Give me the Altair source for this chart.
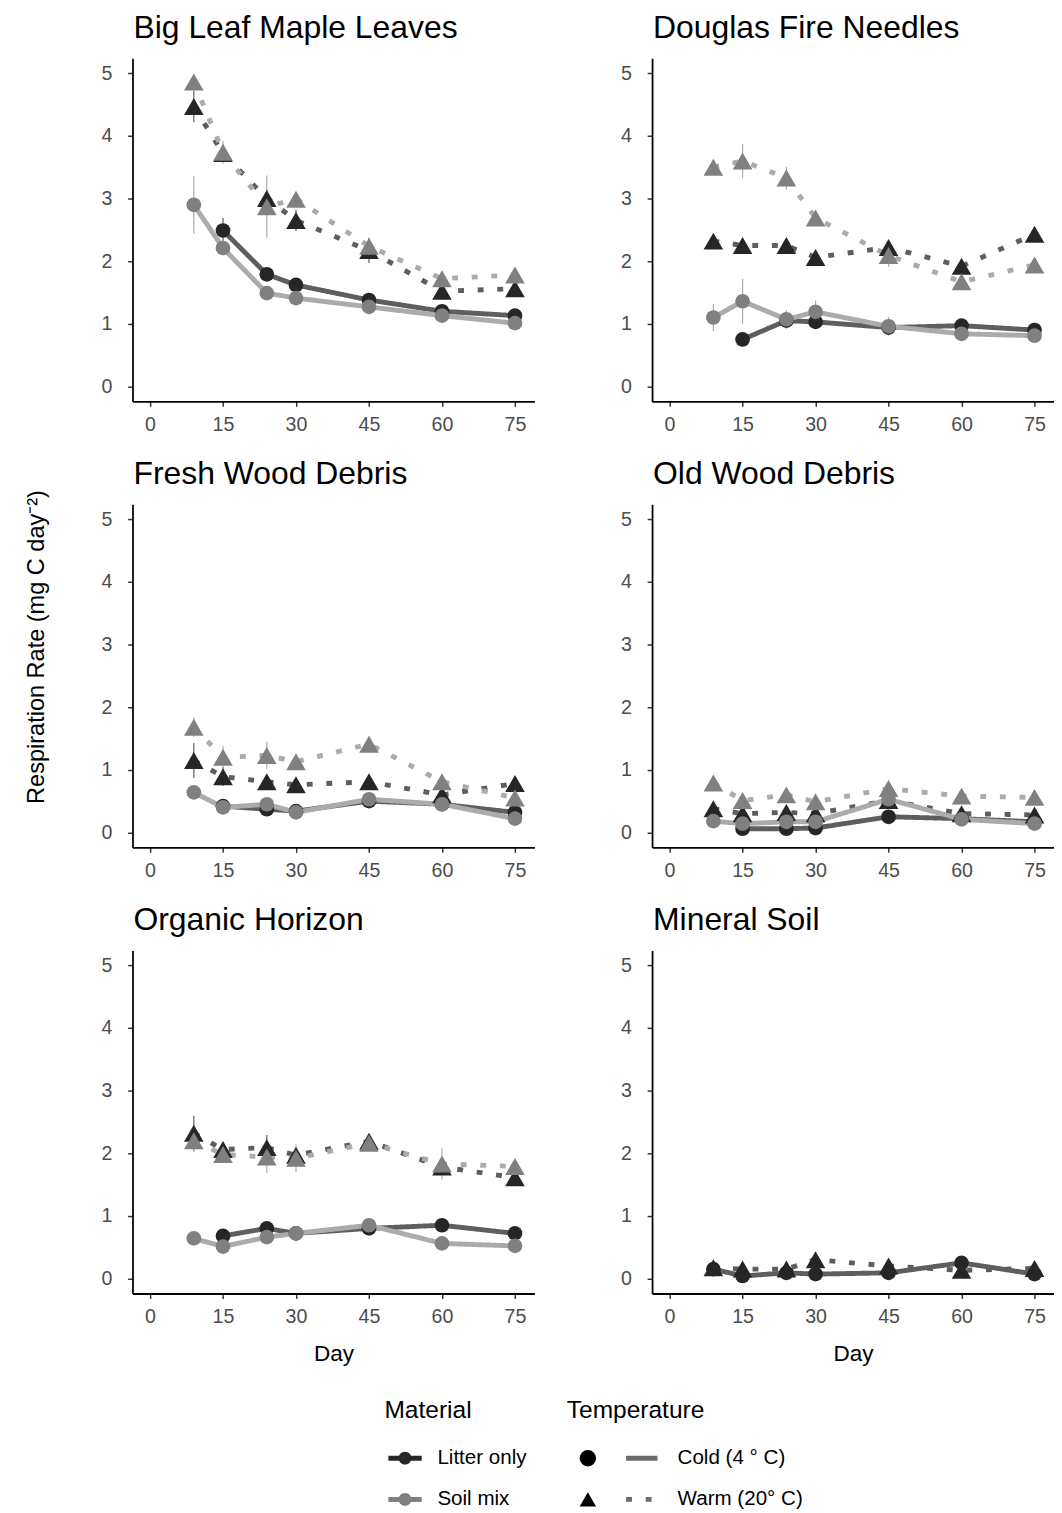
import altair as alt
import pandas as pd

DAYS = [9, 15, 24, 30, 45, 60, 75]
PANELS = ["Big Leaf Maple Leaves", "Douglas Fire Needles", "Fresh Wood Debris",
          "Old Wood Debris", "Organic Horizon", "Mineral Soil"]
MATERIALS = ["Litter only", "Soil mix"]
LINE_KEYS = ["litter_line", "soil_line"]
TEMPS = ["Cold (4 ° C)", "Warm (20° C)"]
SHAPE_KEYS = ["cold", "warm"]
SIZE_KEYS = ["small", "large"]
X_TICKS = [0, 15, 30, 45, 60, 75]
Y_TICKS = [0, 1, 2, 3, 4, 5]
Y_TITLE = "Respiration Rate (mg C day\u207b\u00b2)"

# Big Leaf Maple Leaves
MAPLE_LC = [None, 2.49, 1.79, 1.62, 1.38, 1.20, 1.13]
MAPLE_LC_SE = [None, 0.20, 0.06, 0.05, 0.05, 0.05, 0.04]
MAPLE_LW = [4.47, 3.72, 3.00, 2.65, 2.17, 1.52, 1.56]
MAPLE_LW_SE = [0.25, 0.10, 0.15, 0.17, 0.20, 0.10, 0.08]
MAPLE_SC = [2.90, 2.21, 1.49, 1.41, 1.27, 1.13, 1.01]
MAPLE_SC_SE = [0.46, 0.08, 0.06, 0.05, 0.05, 0.05, 0.04]
MAPLE_SW = [4.86, 3.74, 2.87, 2.99, 2.24, 1.72, 1.78]
MAPLE_SW_SE = [0.10, 0.18, 0.50, 0.10, 0.12, 0.10, 0.08]

# Douglas Fire Needles
FIR_LC = [None, 0.75, 1.05, 1.03, 0.94, 0.97, 0.90]
FIR_LC_SE = [None, 0.05, 0.08, 0.05, 0.05, 0.05, 0.05]
FIR_LW = [2.32, 2.25, 2.25, 2.06, 2.22, 1.92, 2.43]
FIR_LW_SE = [0.08, 0.08, 0.08, 0.08, 0.10, 0.08, 0.08]
FIR_SC = [1.10, 1.36, 1.07, 1.19, 0.96, 0.84, 0.81]
FIR_SC_SE = [0.22, 0.36, 0.15, 0.18, 0.15, 0.05, 0.05]
FIR_SW = [3.50, 3.60, 3.33, 2.69, 2.09, 1.67, 1.94]
FIR_SW_SE = [0.12, 0.27, 0.18, 0.12, 0.18, 0.10, 0.08]

# Fresh Wood Debris
FRESH_LC = [None, 0.42, 0.37, 0.34, 0.50, 0.45, 0.32]
FRESH_LC_SE = [None, 0.05, 0.05, 0.05, 0.05, 0.05, 0.05]
FRESH_LW = [1.15, 0.89, 0.81, 0.76, 0.81, 0.60, 0.78]
FRESH_LW_SE = [0.28, 0.15, 0.10, 0.08, 0.08, 0.08, 0.08]
FRESH_SC = [0.64, 0.40, 0.45, 0.32, 0.53, 0.45, 0.22]
FRESH_SC_SE = [0.05, 0.05, 0.05, 0.05, 0.05, 0.05, 0.05]
FRESH_SW = [1.68, 1.20, 1.23, 1.13, 1.41, 0.81, 0.55]
FRESH_SW_SE = [0.15, 0.18, 0.22, 0.10, 0.12, 0.08, 0.08]

# Old Wood Debris
OLD_LC = [None, 0.06, 0.06, 0.07, 0.25, 0.22, 0.17]
OLD_LC_SE = [None, 0.04, 0.04, 0.04, 0.04, 0.04, 0.04]
OLD_LW = [0.38, 0.30, 0.32, 0.30, 0.51, 0.30, 0.28]
OLD_LW_SE = [0.05, 0.05, 0.05, 0.05, 0.05, 0.05, 0.05]
OLD_SC = [0.18, 0.14, 0.17, 0.17, 0.53, 0.21, 0.14]
OLD_SC_SE = [0.04, 0.04, 0.04, 0.04, 0.04, 0.04, 0.04]
OLD_SW = [0.79, 0.51, 0.60, 0.49, 0.70, 0.58, 0.56]
OLD_SW_SE = [0.05, 0.05, 0.05, 0.05, 0.05, 0.05, 0.05]

# Organic Horizon
ORG_LC = [None, 0.68, 0.80, 0.72, 0.80, 0.85, 0.72]
ORG_LC_SE = [None, 0.05, 0.05, 0.05, 0.05, 0.05, 0.05]
ORG_LW = [2.32, 2.06, 2.09, 1.97, 2.19, 1.78, 1.61]
ORG_LW_SE = [0.28, 0.12, 0.20, 0.10, 0.10, 0.10, 0.08]
ORG_SC = [0.64, 0.51, 0.66, 0.72, 0.85, 0.56, 0.52]
ORG_SC_SE = [0.05, 0.05, 0.05, 0.05, 0.05, 0.05, 0.05]
ORG_SW = [2.20, 1.98, 1.94, 1.92, 2.16, 1.83, 1.79]
ORG_SW_SE = [0.18, 0.12, 0.25, 0.22, 0.12, 0.25, 0.10]

# Mineral Soil (litter-only series)
MIN_LC = [0.15, 0.04, 0.09, 0.07, 0.09, 0.25, 0.07]
MIN_LC_SE = [0.03, 0.03, 0.03, 0.03, 0.03, 0.03, 0.03]
MIN_LW = [0.17, 0.15, 0.15, 0.30, 0.20, 0.13, 0.16]
MIN_LW_SE = [0.03, 0.03, 0.03, 0.03, 0.03, 0.03, 0.03]
MIN_SC = [None] * 7
MIN_SC_SE = [None] * 7
MIN_SW = [None] * 7
MIN_SW_SE = [None] * 7

SERIES = [
    (PANELS[0], MAPLE_LC, MAPLE_LC_SE, MAPLE_LW, MAPLE_LW_SE, MAPLE_SC, MAPLE_SC_SE, MAPLE_SW, MAPLE_SW_SE),
    (PANELS[1], FIR_LC, FIR_LC_SE, FIR_LW, FIR_LW_SE, FIR_SC, FIR_SC_SE, FIR_SW, FIR_SW_SE),
    (PANELS[2], FRESH_LC, FRESH_LC_SE, FRESH_LW, FRESH_LW_SE, FRESH_SC, FRESH_SC_SE, FRESH_SW, FRESH_SW_SE),
    (PANELS[3], OLD_LC, OLD_LC_SE, OLD_LW, OLD_LW_SE, OLD_SC, OLD_SC_SE, OLD_SW, OLD_SW_SE),
    (PANELS[4], ORG_LC, ORG_LC_SE, ORG_LW, ORG_LW_SE, ORG_SC, ORG_SC_SE, ORG_SW, ORG_SW_SE),
    (PANELS[5], MIN_LC, MIN_LC_SE, MIN_LW, MIN_LW_SE, MIN_SC, MIN_SC_SE, MIN_SW, MIN_SW_SE),
]

rows = []
for panel, lc, lcse, lw, lwse, sc, scse, sw, swse in SERIES:
    groups = [
        (0, 0, lc, lcse),
        (0, 1, lw, lwse),
        (1, 0, sc, scse),
        (1, 1, sw, swse),
    ]
    for m, t, vals, ses in groups:
        for day, v, s in zip(DAYS, vals, ses):
            if v is None:
                continue
            rows.append(dict(Panel=panel, Material=MATERIALS[m], LineKey=LINE_KEYS[m],
                             Temperature=TEMPS[t], TempShape=SHAPE_KEYS[t],
                             SizeKey=SIZE_KEYS[t], Day=day, Rate=v,
                             Lo=v - s, Hi=v + s))
df = pd.DataFrame(rows)

FONT = "Liberation Sans"
W, H = 410, 350
X_DOMAIN = [-3.6, 79.0]
Y_DOMAIN = [-0.24, 5.24]

fill_scale = alt.Scale(domain=MATERIALS, range=["#262626", "#808080"])
stroke_scale = alt.Scale(domain=LINE_KEYS, range=["#5e5e5e", "#ababab"])
dash_scale = alt.Scale(domain=TEMPS, range=[[1, 0], [6, 14]])
shape_scale = alt.Scale(domain=SHAPE_KEYS, range=["circle", "triangle-up"])
size_scale = alt.Scale(domain=SIZE_KEYS, range=[225, 400])

LEG_Y = 1367
MAT_PATH = ("M-1,-0.15H1V0.15H-1Z "
            "M0.38,0A0.38,0.38,0,1,1,-0.38,0A0.38,0.38,0,1,1,0.38,0Z")

common_leg = dict(orient="none", direction="vertical", titleFontSize=25,
                  titleFontWeight="normal", titleColor="black", titleFont=FONT,
                  labelFontSize=21, labelColor="black", labelFont=FONT,
                  clipHeight=40, rowPadding=2, titlePadding=16)

fill_legend = alt.Legend(title="Material", legendX=257, legendY=LEG_Y,
                         symbolType=MAT_PATH, symbolSize=1156, symbolOffset=4,
                         labelOffset=16, symbolStrokeWidth=0, **common_leg)
shape_legend = alt.Legend(title="Temperature", legendX=443, legendY=LEG_Y,
                          symbolSize=280, symbolOffset=11, symbolFillColor="black",
                          symbolStrokeWidth=0, labelExpr="''", labelOffset=0,
                          **common_leg)
dash_legend = alt.Legend(title=" ", legendX=501, legendY=LEG_Y,
                         symbolType="stroke", symbolSize=1024, symbolStrokeWidth=5,
                         symbolStrokeColor="#6b6b6b", labelOffset=18,
                         **common_leg)

TITLE_OFFSET = -12
YTITLE_Y = 145
YTITLE_HALF = 160


def make_panel(i, name):
    d = df[df.Panel == name]
    left = i % 2 == 0
    bottom = i >= 4
    xaxis = alt.Axis(values=X_TICKS, title="Day" if bottom else None,
                     titlePadding=16)
    title_offset = TITLE_OFFSET
    if left:
        if i == 2:
            yaxis = alt.Axis(values=Y_TICKS, title=Y_TITLE, titlePadding=54,
                             titleY=YTITLE_Y, titleFontSize=24)
            title_offset = TITLE_OFFSET - (YTITLE_HALF - YTITLE_Y)
        else:
            yaxis = alt.Axis(values=Y_TICKS, title=Y_TITLE, titlePadding=54,
                             titleOpacity=0, titleY=175, titleFontSize=24)
    else:
        yaxis = alt.Axis(values=Y_TICKS, title=None)
    xs = alt.Scale(domain=X_DOMAIN, nice=False, zero=False)
    ys = alt.Scale(domain=Y_DOMAIN, nice=False, zero=False)
    base = alt.Chart(d)
    err = base.mark_rule(strokeWidth=1.2).encode(
        x=alt.X("Day:Q", scale=xs, axis=xaxis),
        y=alt.Y("Lo:Q", scale=ys, axis=yaxis),
        y2="Hi:Q",
        stroke=alt.Stroke("LineKey:N", scale=stroke_scale, legend=None),
    )
    lines = base.mark_line(strokeWidth=5, strokeJoin="round", strokeCap="butt").encode(
        x=alt.X("Day:Q", scale=xs, axis=xaxis),
        y=alt.Y("Rate:Q", scale=ys, axis=yaxis),
        stroke=alt.Stroke("LineKey:N", scale=stroke_scale, legend=None),
        strokeDash=alt.StrokeDash("Temperature:N", scale=dash_scale, legend=dash_legend),
    )
    pts = base.mark_point(filled=True, opacity=1).encode(
        x=alt.X("Day:Q", scale=xs, axis=xaxis),
        y=alt.Y("Rate:Q", scale=ys, axis=yaxis),
        fill=alt.Fill("Material:N", scale=fill_scale, legend=fill_legend),
        shape=alt.Shape("TempShape:N", scale=shape_scale, legend=shape_legend),
        size=alt.Size("SizeKey:N", scale=size_scale, legend=None),
    )
    return alt.layer(err, lines, pts).properties(
        width=W, height=H,
        title=alt.TitleParams(name, anchor="start", frame="group",
                              baseline="alphabetic", offset=title_offset,
                              fontSize=32.5, fontWeight="normal", color="black",
                              font=FONT, dx=1),
    )


panels = [make_panel(i, n) for i, n in enumerate(PANELS)]

chart = alt.concat(*panels, columns=2, spacing={"row": 24, "column": 87}).properties(
    padding={"left": 16, "top": -11, "right": 0, "bottom": 0}
).configure_view(stroke=None).configure_axis(
    grid=False, domainColor="black", domainWidth=1.8, tickColor="#333333",
    tickWidth=1.5, tickSize=5, labelFontSize=20, labelColor="#4d4d4d",
    labelFont=FONT, titleFont=FONT, titleFontSize=23, titleFontWeight="normal",
    titleColor="black",
).configure_axisX(labelPadding=9).configure_axisY(labelPadding=16)

chart.save("out.html", embed_options={"renderer": "svg", "actions": False})
